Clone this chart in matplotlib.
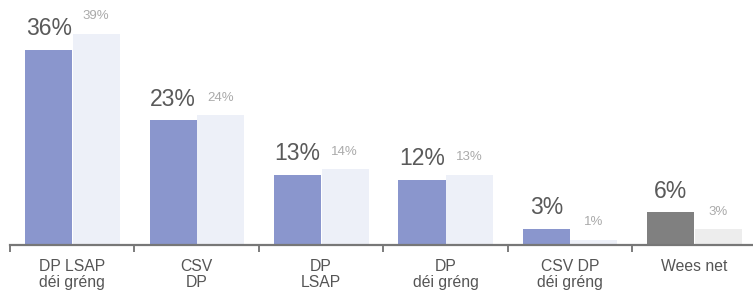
import numpy as np
import matplotlib
matplotlib.use("Agg")
import matplotlib.pyplot as plt

categories = ["DP LSAP\ndéi gréng", "CSV\nDP", "DP\nLSAP", "DP\ndéi gréng", "CSV DP\ndéi gréng", "Wees net"]
current = [36, 23, 13, 12, 3, 6]
previous = [39, 24, 14, 13, 1, 3]

col_cur = ["#8a96cd"] * 5 + ["#808080"]
col_prev = ["#edf0f8"] * 5 + ["#ededed"]

plt.rcParams["font.family"] = ["Liberation Sans", "DejaVu Sans"]

fig = plt.figure(figsize=(7.53, 2.91), dpi=100)
ax = fig.add_axes([10 / 753, 46 / 291, 746.6 / 753, 245 / 291])

x = np.arange(len(categories))
w = 0.378
ax.bar(x - w / 2, current, width=w, color=col_cur, linewidth=0)
ax.bar(x + w / 2 + 0.004, previous, width=w, color=col_prev, linewidth=0)

for xi, c, p in zip(x, current, previous):
    ax.annotate(f"{c}%", (xi - w / 2, c), xytext=(0, 7), textcoords="offset points",
                ha="center", va="bottom", fontsize=16.5, color="#5a5a5a")
    ax.annotate(f"{p}%", (xi + w / 2, p), xytext=(0, 8), textcoords="offset points",
                ha="center", va="bottom", fontsize=9.5, color="#aaaaaa")

ax.set_xlim(-0.5, len(categories) - 0.5)
ax.set_ylim(0, 45.2)
ax.set_xticks(x - 0.5, minor=False)
ax.set_xticklabels([])
ax.set_xticks(x, minor=True)
ax.set_xticklabels(categories, minor=True, fontsize=11.3, color="#555555", linespacing=1.1)
ax.tick_params(axis="x", which="major", length=5, width=1.2, color="#666666", direction="out")
ax.tick_params(axis="x", which="minor", length=0, pad=10)
ax.set_yticks([])
for s in ["top", "right", "left"]:
    ax.spines[s].set_visible(False)
ax.spines["bottom"].set_color("#777777")
ax.spines["bottom"].set_linewidth(1.6)

fig.savefig("out.png", dpi=100)
